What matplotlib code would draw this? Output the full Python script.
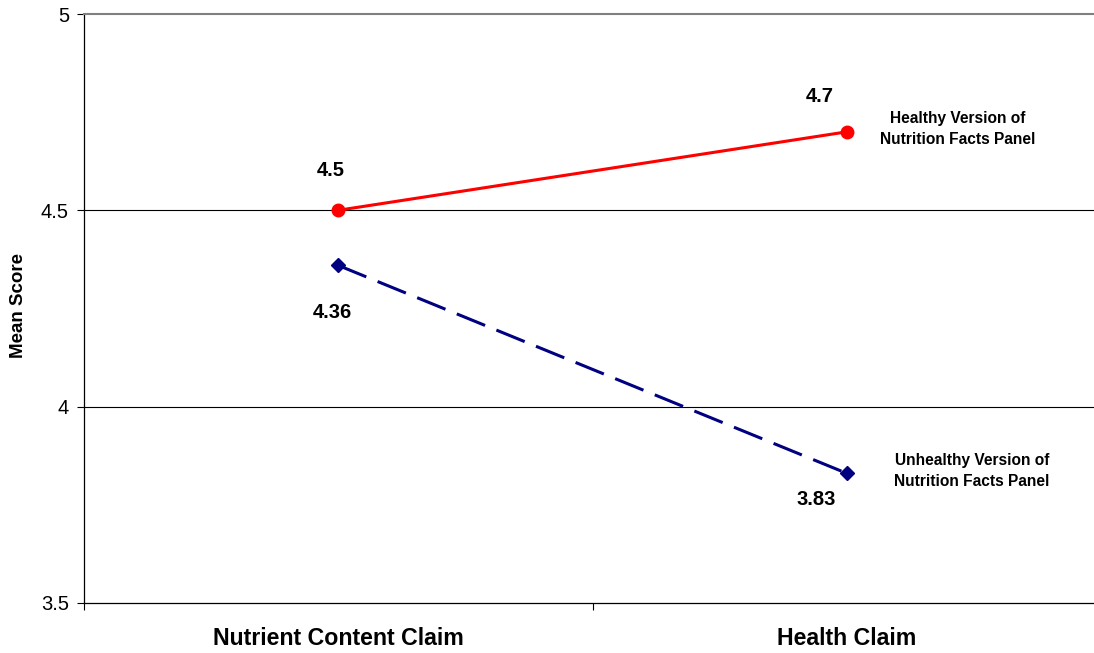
import matplotlib
matplotlib.use("Agg")
import matplotlib.pyplot as plt

plt.rcParams['font.family'] = ['Liberation Sans', 'DejaVu Sans']

categories = ["Nutrient Content Claim", "Health Claim"]
healthy = [4.5, 4.7]
unhealthy = [4.36, 3.83]
healthy_name = "Healthy Version of\nNutrition Facts Panel"
unhealthy_name = "Unhealthy Version of\nNutrition Facts Panel"
y_ticks = [3.5, 4.0, 4.5, 5.0]
y_tick_labels = ["3.5", "4", "4.5", "5"]

fig = plt.figure(figsize=(10.94, 6.53), dpi=100)
ax = fig.add_axes([83.5 / 1094, 1 - 603 / 653, 1018 / 1094, 589 / 653])

x = list(range(len(categories)))

for yv in [4.0, 4.5]:
    ax.axhline(yv, color="black", linewidth=0.8, zorder=1)

ax.plot(x, healthy, color="#FF0000", linewidth=2.2, marker="o",
        markersize=9, zorder=3)
ax.plot(x, unhealthy, color="#000080", linewidth=2.2, marker="D",
        markersize=7, dashes=(10, 4), zorder=3)

def px(v):
    return v * 72 / 100

value_offsets_h = [(-7, 40), (-27, 35)]
value_offsets_u = [(-6, -47), (-31, -26)]
for xi, v, (dx, dy) in zip(x, healthy, value_offsets_h):
    ax.annotate(f"{v:g}", (xi, v), xytext=(px(dx), px(dy)),
                textcoords="offset points", ha="center", va="center",
                fontsize=14.5, fontweight="bold")
for xi, v, (dx, dy) in zip(x, unhealthy, value_offsets_u):
    ax.annotate(f"{v:g}", (xi, v), xytext=(px(dx), px(dy)),
                textcoords="offset points", ha="center", va="center",
                fontsize=14.5, fontweight="bold")

ax.annotate(healthy_name, (x[-1], healthy[-1]), xytext=(px(111), px(3)),
            textcoords="offset points", ha="center", va="center",
            fontsize=11.2, fontweight="bold", linespacing=1.5)
ax.annotate(unhealthy_name, (x[-1], unhealthy[-1]), xytext=(px(125), px(2)),
            textcoords="offset points", ha="center", va="center",
            fontsize=11.2, fontweight="bold", linespacing=1.5)

ax.set_xlim(-0.5, 1.5)
ax.set_ylim(3.5, 5.0)
ax.set_yticks(y_ticks)
ax.set_yticklabels(y_tick_labels, fontsize=14.5)
ax.set_xticks([-0.5, 0.5, 1.5])
ax.set_xticklabels([])
ax.set_xticks(x, minor=True)
ax.set_xticklabels(categories, minor=True, fontsize=16.7, fontweight="bold")
ax.tick_params(axis="x", which="minor", length=0, pad=17)
ax.tick_params(axis="x", which="major", length=5, direction="out", width=0.8)
ax.tick_params(axis="y", length=5, direction="out", width=0.8, pad=5.5)

fig.text(19 / 1094, 1 - 306 / 653, "Mean Score", rotation=90,
         ha="center", va="center", fontsize=13.5, fontweight="bold")

ax.spines["right"].set_visible(False)
ax.spines["top"].set_color("#808080")
ax.spines["top"].set_linewidth(1.5)
ax.spines["left"].set_linewidth(0.9)
ax.spines["bottom"].set_linewidth(0.9)

fig.savefig("out.png", dpi=100)
